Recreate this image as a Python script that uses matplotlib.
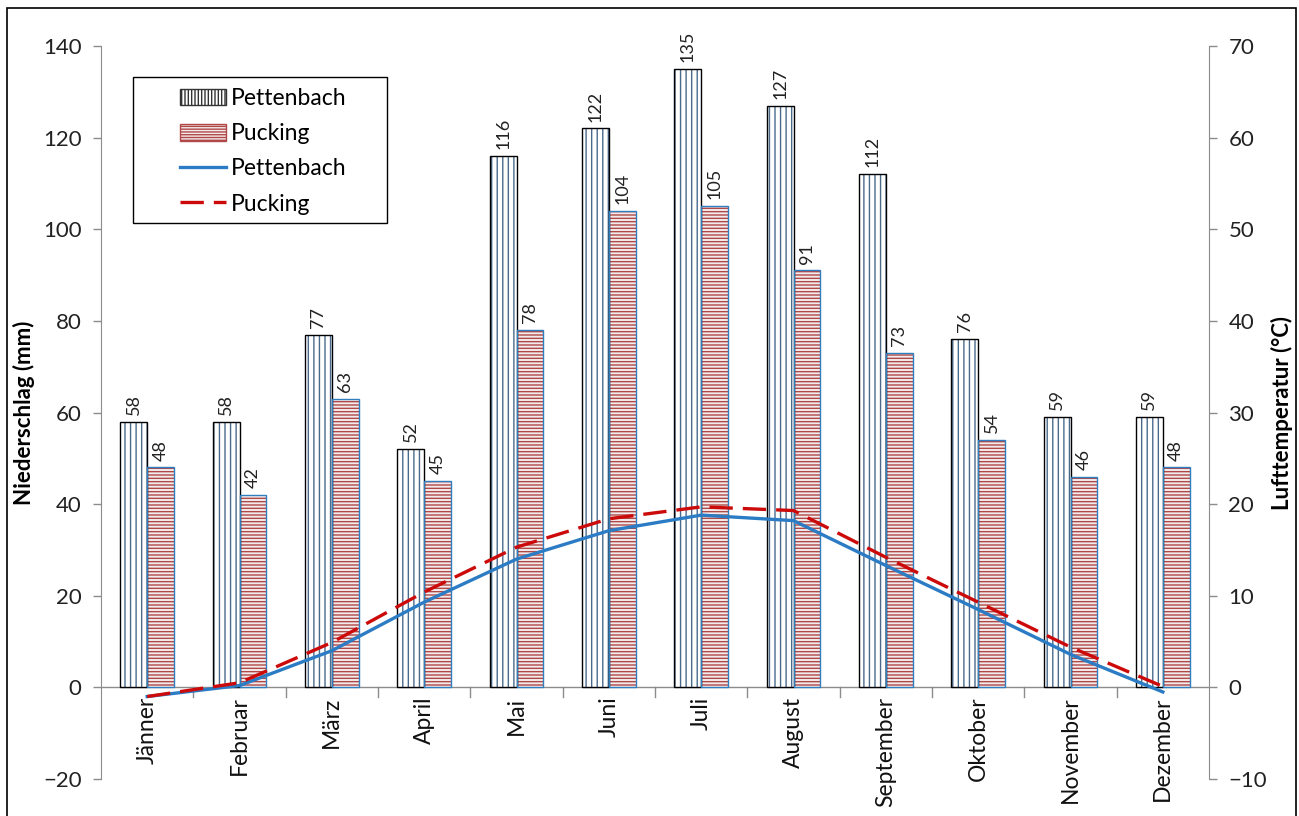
import matplotlib.pyplot as plt
from matplotlib.patches import Patch, Rectangle
from matplotlib.lines import Line2D
import numpy as np

plt.rcParams['font.family'] = ['Lato', 'DejaVu Sans']
plt.rcParams['hatch.linewidth'] = 1.0

months = ['Jänner', 'Februar', 'März', 'April', 'Mai', 'Juni', 'Juli',
          'August', 'September', 'Oktober', 'November', 'Dezember']
# Niederschlag (mm)
rain_pettenbach = [58, 58, 77, 52, 116, 122, 135, 127, 112, 76, 59, 59]
rain_pucking = [48, 42, 63, 45, 78, 104, 105, 91, 73, 54, 46, 48]
# Lufttemperatur (°C)
temp_pettenbach = [-1.0, 0.2, 4.0, 9.3, 14.0, 17.1, 18.8, 18.2, 13.3, 8.5, 3.6, -0.5]
temp_pucking = [-1.0, 0.5, 4.9, 10.4, 15.3, 18.4, 19.7, 19.3, 14.2, 9.3, 4.4, 0.1]

x = np.arange(len(months))
w = 0.29

fig = plt.figure(figsize=(12.99, 8.16), dpi=100)
ax = fig.add_axes([101 / 1299, 1 - 779 / 816, 1108 / 1299, 733 / 816])
ax2 = ax.twinx()

# Balken: Schraffur in eigener Farbe, Umriss separat darüber
ax.bar(x - w / 2, rain_pettenbach, w, facecolor='white', edgecolor='#4a6a8c',
       hatch='|||', linewidth=0, zorder=2)
ax.bar(x - w / 2, rain_pettenbach, w, facecolor='none', edgecolor='black',
       linewidth=1.0, zorder=3)
ax.bar(x + w / 2, rain_pucking, w, facecolor='#f4ecec', edgecolor='#b04848',
       hatch='-----', linewidth=0, zorder=2)
ax.bar(x + w / 2, rain_pucking, w, facecolor='none', edgecolor='#2f7fc0',
       linewidth=1.0, zorder=3)

for xi, v in zip(x, rain_pettenbach):
    ax.annotate(str(v), (xi - w / 2, v), xytext=(0, 5), textcoords='offset points',
                rotation=90, ha='center', va='bottom', fontsize=13, color='#222222')
for xi, v in zip(x, rain_pucking):
    ax.annotate(str(v), (xi + w / 2, v), xytext=(0, 5), textcoords='offset points',
                rotation=90, ha='center', va='bottom', fontsize=13, color='#222222')

ax.set_xlim(-0.5, 11.5)
ax.set_ylim(-20, 140)
ax.set_yticks(np.arange(-20, 141, 20))
ax2.set_ylim(-10, 70)
ax2.set_yticks(np.arange(-10, 71, 10))

ax2.plot(x, temp_pettenbach, color='#2b7cc4', linewidth=2.4, zorder=4)
ax2.plot(x, temp_pucking, color='#cc0a0a', linewidth=2.4, dashes=(7, 3), zorder=5)

# Achsen
for a in (ax, ax2):
    a.spines['top'].set_visible(False)
    a.spines['bottom'].set_visible(False)
    a.patch.set_visible(False)
ax.spines['right'].set_visible(False)
ax2.spines['left'].set_visible(False)
ax.spines['left'].set_color('#8c8c8c')
ax2.spines['right'].set_color('#8c8c8c')
ax.axhline(0, color='#8c8c8c', linewidth=1.0, zorder=1)

ax.tick_params(axis='y', colors='#8c8c8c', labelcolor='#222222', labelsize=16,
               length=6, width=1.0, pad=8)
ax2.tick_params(axis='y', colors='#8c8c8c', labelcolor='#222222', labelsize=16,
                length=6, width=1.0, pad=8)

# Kategorien: Striche an den Grenzen, Beschriftung in der Mitte
ax.set_xticks([])
for b in np.arange(0.5, 11, 1):
    ax.plot([b, b], [0, -2.2], color='#8c8c8c', linewidth=1.0, clip_on=False)
for xi, m in zip(x, months):
    ax.text(xi, -2.0, m, rotation=90, ha='center', va='top', fontsize=16.5,
            color='#111111')

ax.set_ylabel('Niederschlag (mm)', fontsize=16, fontweight='bold', labelpad=6)
ax2.set_ylabel('Lufttemperatur (°C)', fontsize=16, fontweight='bold', labelpad=3)

# Legende ohne eigenen Rahmen, Rahmen als Rechteck mit festem Innenabstand
handles = [
    Patch(facecolor='white', edgecolor='#333333', hatch='|||||', linewidth=1.0),
    Patch(facecolor='#f4ecec', edgecolor='#b04848', hatch='------', linewidth=1.0),
    Line2D([], [], color='#2b7cc4', linewidth=2.4),
    Line2D([], [], color='#cc0a0a', linewidth=2.4, dashes=(7, 3)),
]
leg = ax2.legend(handles, ['Pettenbach', 'Pucking', 'Pettenbach', 'Pucking'],
                 loc='upper left', bbox_to_anchor=(79 / 1108, 691 / 733),
                 borderaxespad=0, borderpad=0, fontsize=16.5, frameon=False,
                 handlelength=2.0, handleheight=0.75, handletextpad=0.2,
                 labelspacing=0.62)
leg.set_zorder(10)
ax2.add_patch(Rectangle((32 / 1108, 556 / 733), 254 / 1108, 146 / 733,
                        transform=ax2.transAxes, facecolor='white',
                        edgecolor='black', linewidth=1.0, zorder=9))

# Rahmen um die Grafik
fig.patches.append(Rectangle((7 / 1299, -0.02), 1289 / 1299, 1.02 - 8 / 816,
                             transform=fig.transFigure, fill=False,
                             edgecolor='black', linewidth=1.2))

fig.savefig('out.png', dpi=100)
